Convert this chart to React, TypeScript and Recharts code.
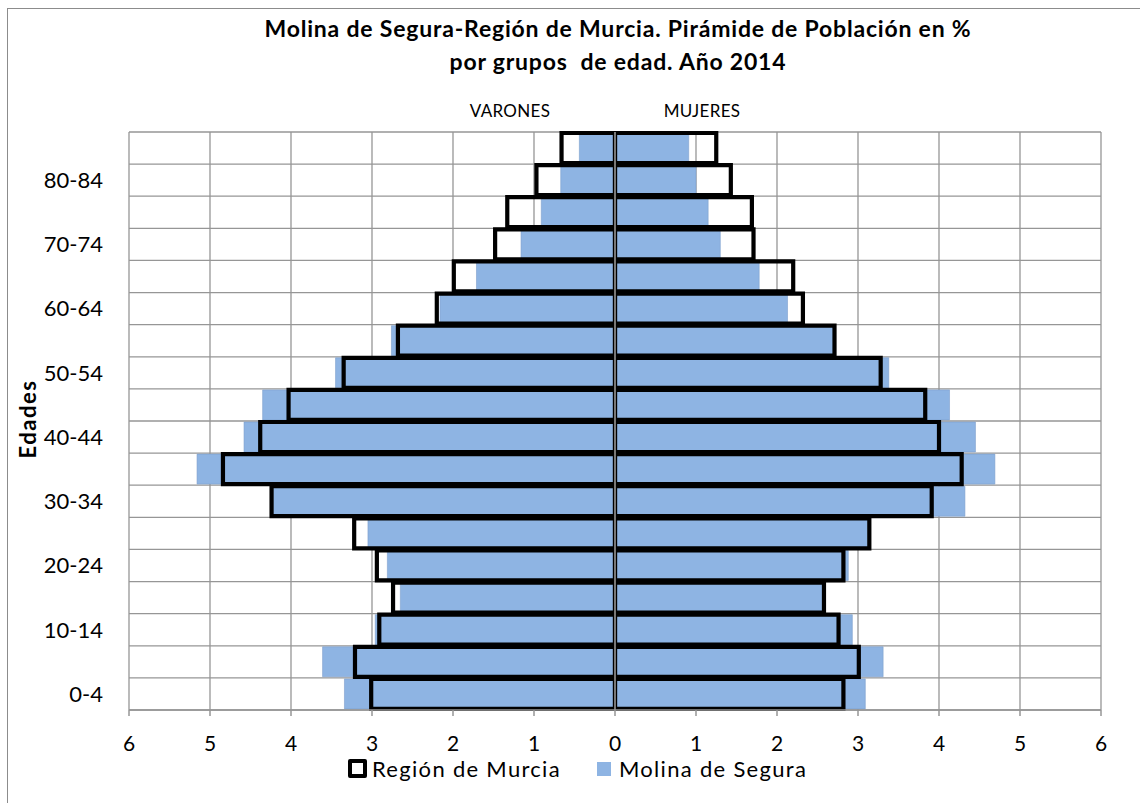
import React from 'react';
import { BarChart, Bar, XAxis, YAxis, CartesianGrid, ReferenceLine } from 'recharts';

const ageGroups = ['0-4','5-9','10-14','15-19','20-24','25-29','30-34','35-39','40-44','45-49','50-54','55-59','60-64','65-69','70-74','75-79','80-84','85+'];
const molinaMen = [3.34,3.61,2.96,2.65,2.81,3.05,4.22,5.16,4.58,4.35,3.45,2.76,2.16,1.71,1.16,0.91,0.67,0.44];
const regionMen = [3.01,3.21,2.91,2.74,2.94,3.22,4.24,4.84,4.38,4.03,3.35,2.68,2.20,1.99,1.48,1.33,0.97,0.66];
const molinaWomen = [3.09,3.31,2.93,2.56,2.88,3.12,4.32,4.69,4.45,4.13,3.38,2.70,2.13,1.78,1.30,1.15,1.00,0.91];
const regionWomen = [2.82,3.01,2.76,2.58,2.82,3.14,3.91,4.28,4.00,3.83,3.28,2.71,2.32,2.20,1.71,1.69,1.43,1.25];
const xTicks = [-6,-5,-4,-3,-2,-1,0,1,2,3,4,5,6];

const data = ageGroups.map((age, i) => ({
  age,
  molinaMen: -molinaMen[i],
  molinaWomen: molinaWomen[i],
  regionMen: -regionMen[i],
  regionWomen: regionWomen[i],
}));

const FONT = 'Lato, "Open Sans", sans-serif';
const GRID = '#969696';
const BLUE = '#8EB4E3';

export default function App() {
  return (
    <div style={{ position: 'absolute', left: 0, top: 0, width: 1140, height: 803, background: '#fff', fontFamily: FONT, overflow: 'hidden' }}>
      <div style={{ position: 'absolute', left: 7, top: 8, width: 1200, height: 900, borderLeft: '1.5px solid #8c8c8c', borderTop: '1.5px solid #8c8c8c' }} />
      <div style={{ position: 'absolute', left: 0, width: 1236, top: 12, textAlign: 'center', fontWeight: 700, fontSize: 23, letterSpacing: 0.8, lineHeight: '33px', color: '#000' }}>
        Molina de Segura-Región de Murcia. Pirámide de Población en %<br />por grupos&nbsp; de edad. Año 2014
      </div>
      <div style={{ position: 'absolute', left: 410, width: 200, top: 100, textAlign: 'center', fontSize: 17, letterSpacing: 0.3, color: '#000' }}>VARONES</div>
      <div style={{ position: 'absolute', left: 602, width: 200, top: 100, textAlign: 'center', fontSize: 17, letterSpacing: 0.3, color: '#000' }}>MUJERES</div>
      <div style={{ position: 'absolute', left: 27, top: 419, transform: 'translate(-50%, -50%) rotate(-90deg)', fontWeight: 700, fontSize: 22, letterSpacing: 1.5, color: '#000', whiteSpace: 'nowrap' }}>Edades</div>
      <BarChart
        width={1140}
        height={803}
        data={data}
        layout="vertical"
        stackOffset="sign"
        barSize={30}
        margin={{ top: 132, right: 39, left: 0, bottom: 63 }}
        style={{ position: 'absolute', left: 0, top: 0 }}
      >
        <CartesianGrid
          stroke={GRID}
          strokeWidth={1.3}
          horizontalCoordinatesGenerator={({ offset }: any) =>
            ageGroups.map((_, i) => offset.top + (i * offset.height) / ageGroups.length).concat([offset.top + offset.height])
          }
        />
        <XAxis
          type="number"
          domain={[-6, 6]}
          ticks={xTicks}
          tickFormatter={(v: number) => String(Math.abs(v))}
          stroke={GRID}
          axisLine={{ stroke: GRID, strokeWidth: 1.5 }}
          tickLine={{ stroke: GRID, strokeWidth: 1.5 }}
          tickSize={6}
          tickMargin={20}
          tick={{ fill: '#000', fontSize: 21, fontFamily: FONT }}
        />
        <YAxis
          type="category"
          dataKey="age"
          reversed
          interval={1}
          width={129}
          axisLine={false}
          tickLine={false}
          tickSize={0}
          tickMargin={26}
          tick={{ fill: '#000', fontSize: 22, fontFamily: FONT }}
        />
        <YAxis yAxisId="b" type="category" dataKey="age" reversed hide />
        <Bar dataKey="molinaMen" stackId="m" fill={BLUE} stroke="#7d9fcc" strokeWidth={0.6} isAnimationActive={false} />
        <Bar dataKey="molinaWomen" stackId="m" fill={BLUE} stroke="#7d9fcc" strokeWidth={0.6} isAnimationActive={false} />
        <Bar yAxisId="b" dataKey="regionMen" stackId="r" fill="none" stroke="#000" strokeWidth={4.2} isAnimationActive={false} />
        <Bar yAxisId="b" dataKey="regionWomen" stackId="r" fill="none" stroke="#000" strokeWidth={4.2} isAnimationActive={false} />
        <ReferenceLine x={0} stroke={GRID} strokeWidth={1.6} />
      </BarChart>
      <div style={{ position: 'absolute', left: 348, top: 755, display: 'flex', alignItems: 'center', fontSize: 22, letterSpacing: 1.3, color: '#000', whiteSpace: 'nowrap' }}>
        <span style={{ display: 'inline-block', width: 11, height: 11, border: '4px solid #000', borderRadius: 2, background: '#fff', marginRight: 5 }} />
        <span>Región de Murcia</span>
        <span style={{ display: 'inline-block', width: 14, height: 14, background: BLUE, marginLeft: 36, marginRight: 8 }} />
        <span>Molina de Segura</span>
      </div>
    </div>
  );
}
